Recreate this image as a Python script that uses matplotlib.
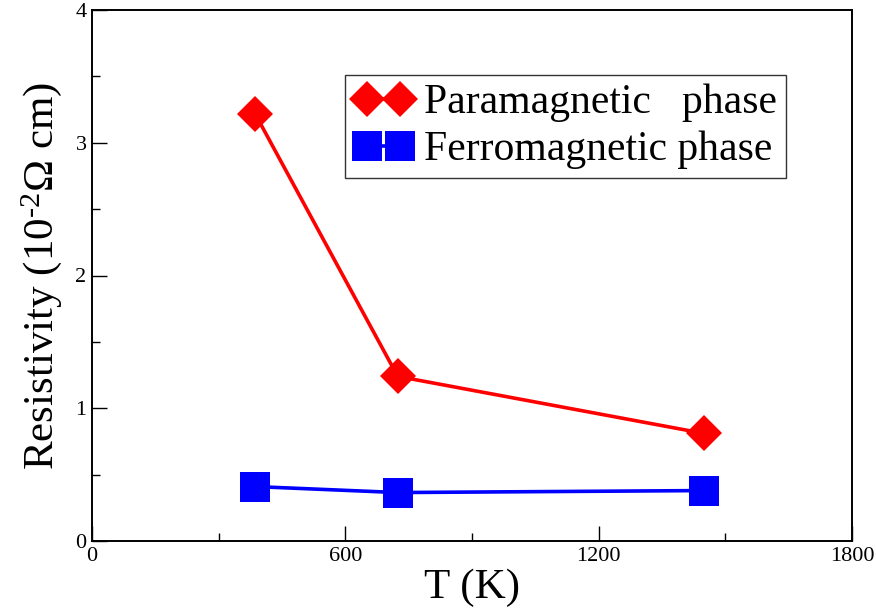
import matplotlib
matplotlib.use("Agg")
import matplotlib.pyplot as plt
from matplotlib.ticker import MultipleLocator

plt.rcParams["font.family"] = ["Liberation Serif", "DejaVu Serif"]
plt.rcParams["mathtext.fontset"] = "custom"
plt.rcParams["mathtext.rm"] = "Liberation Serif"
plt.rcParams["mathtext.it"] = "Liberation Serif:italic"

# Resistivity vs temperature for the two magnetic phases
temperature = [386, 724, 1450]
rho_para = [3.22, 1.24, 0.81]
rho_ferro = [0.41, 0.365, 0.38]

x_ticks = [0, 600, 1200, 1800]
y_ticks = [0, 1, 2, 3, 4]

fig = plt.figure(figsize=(8.76, 6.12), dpi=100)
ax = fig.add_axes([92 / 876, 71 / 612, 760 / 876, 531 / 612])

ax.plot(temperature, rho_para, color="#ff0000", lw=2.6, marker="D",
        markersize=18, markeredgewidth=0, label="Paramagnetic   phase")
ax.plot(temperature, rho_ferro, color="#0000ff", lw=2.6, marker="s",
        markersize=21, markeredgewidth=0, label="Ferromagnetic phase")

ax.set_xlim(0, 1800)
ax.set_ylim(0, 4)
ax.set_xticks(x_ticks)
ax.set_yticks(y_ticks)
ax.xaxis.set_minor_locator(MultipleLocator(300))
ax.yaxis.set_minor_locator(MultipleLocator(0.5))
ax.tick_params(which="both", direction="in", top=False, right=False,
               labelsize=16, width=1.0, pad=4)
ax.tick_params(which="major", length=11)
ax.tick_params(which="minor", length=6)
for s in ax.spines.values():
    s.set_linewidth(1.4)

ax.set_xlabel("T (K)", fontsize=31, labelpad=2)
ax.set_ylabel(r"Resistivity (10$^{\text{-2}}$Ω cm)", fontsize=31, labelpad=8)

leg = ax.legend(loc="upper left", bbox_to_anchor=(0.333, 0.878), numpoints=2,
                fontsize=30, frameon=True, fancybox=False, edgecolor="black",
                handlelength=1.4, handletextpad=0.28, borderpad=0.22,
                labelspacing=0.2, borderaxespad=0)
leg.get_frame().set_linewidth(1.0)

fig.savefig("out.png", dpi=100)
